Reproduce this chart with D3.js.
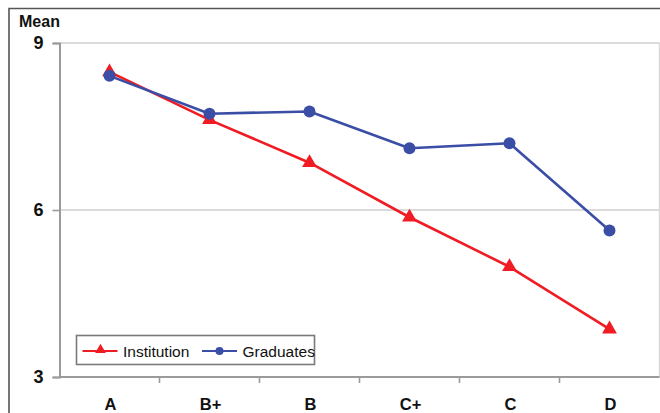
<!DOCTYPE html>
<html>
<head>
<meta charset="utf-8">
<script src="https://cdn.jsdelivr.net/npm/d3@7"></script>
<style>
  html, body { margin: 0; padding: 0; background: #fff; }
  svg { display: block; font-family: "Liberation Sans", Arial, Helvetica, sans-serif; }
</style>
</head>
<body>
<svg id="chart" width="660" height="413"></svg>
<script>
// Mean score by grade band
const grades = ["A", "B+", "B", "C+", "C", "D"];
const institution = [8.48, 7.62, 6.85, 5.87, 4.98, 3.86];
const graduates = [8.41, 7.73, 7.77, 7.11, 7.20, 5.63];
const yTicks = [3, 6, 9];
const seriesNames = ["Institution", "Graduates"];

const svg = d3.select("#chart");
const plotLeft = 59.5, plotRight = 659.5, plotTop = 43, plotBottom = 377;

const x = d3.scaleBand().domain(grades).range([plotLeft, plotRight]).padding(0);
const y = d3.scaleLinear().domain([3, 9]).range([plotBottom, plotTop]);

const red = "#f01c24";
const blue = "#3b4ea6";

// outer frame (left and top edges visible)
svg.append("path")
  .attr("d", "M9,420 L9,8.5 L670,8.5")
  .attr("fill", "none").attr("stroke", "#555").attr("stroke-width", 1.6);

// gridlines
svg.append("g").selectAll("line").data(yTicks.filter(t => t > 3)).join("line")
  .attr("x1", plotLeft).attr("x2", plotRight)
  .attr("y1", d => y(d)).attr("y2", d => y(d))
  .attr("stroke", "#cfcfcf").attr("stroke-width", 1.6);

// plot area right edge
svg.append("line")
  .attr("x1", plotRight).attr("x2", plotRight).attr("y1", plotTop).attr("y2", plotBottom)
  .attr("stroke", "#d8d8d8").attr("stroke-width", 1.4);

// y axis
const yAxis = svg.append("g").attr("transform", `translate(${plotLeft},0)`)
  .call(d3.axisLeft(y).tickValues(yTicks).tickSize(7).tickPadding(9).tickFormat(d3.format("d")));
yAxis.select(".domain").attr("stroke", "#9a9a9a").attr("stroke-width", 2);
yAxis.selectAll(".tick line").attr("stroke", "#9a9a9a").attr("stroke-width", 1.6);
yAxis.selectAll(".tick text")
  .attr("font-size", 18).attr("font-weight", "bold").attr("fill", "#111")
  .attr("font-family", "'Liberation Sans', Arial, sans-serif");

// x axis with ticks on category boundaries
const xAxisG = svg.append("g").attr("transform", `translate(0,${plotBottom})`);
xAxisG.append("line").attr("x1", plotLeft).attr("x2", plotRight)
  .attr("stroke", "#9a9a9a").attr("stroke-width", 2);
xAxisG.selectAll("line.tk").data(grades.slice(1)).join("line").attr("class", "tk")
  .attr("x1", d => x(d)).attr("x2", d => x(d)).attr("y1", 0).attr("y2", 6)
  .attr("stroke", "#9a9a9a").attr("stroke-width", 1.6);
xAxisG.selectAll("text").data(grades).join("text")
  .attr("x", d => x(d) + x.bandwidth() / 2 + 1)
  .attr("y", 33)
  .attr("text-anchor", "middle")
  .attr("font-size", 16.5).attr("font-weight", "bold").attr("fill", "#111")
  .text(d => d);

// axis title
svg.append("text").attr("x", 19).attr("y", 27)
  .attr("font-size", 16).attr("font-weight", "bold").attr("fill", "#111")
  .text("Mean");

const line = d3.line().x((d, i) => x(grades[i]) + x.bandwidth() / 2).y(d => y(d));
const tri = d3.symbol().type(d3.symbolTriangle).size(95);

function drawSeries(vals, color, marker) {
  const g = svg.append("g");
  g.append("path").datum(vals).attr("d", line)
    .attr("fill", "none").attr("stroke", color).attr("stroke-width", 2.6)
    .attr("stroke-linejoin", "round");
  if (marker === "tri") {
    g.selectAll("path.m").data(vals).join("path").attr("class", "m")
      .attr("d", tri)
      .attr("transform", (d, i) => `translate(${x(grades[i]) + x.bandwidth() / 2},${y(d)})`)
      .attr("fill", color);
  } else {
    g.selectAll("circle").data(vals).join("circle")
      .attr("cx", (d, i) => x(grades[i]) + x.bandwidth() / 2)
      .attr("cy", d => y(d)).attr("r", 6)
      .attr("fill", color);
  }
}
drawSeries(institution, red, "tri");
drawSeries(graduates, blue, "circle");

// legend
const lg = svg.append("g");
lg.append("rect").attr("x", 76.5).attr("y", 335.5).attr("width", 238).attr("height", 29)
  .attr("fill", "#fff").attr("stroke", "#7a7a7a").attr("stroke-width", 1.6);
const items = [
  { name: seriesNames[0], color: red, marker: "tri", x0: 82.5 },
  { name: seriesNames[1], color: blue, marker: "circle", x0: 202 }
];
items.forEach(it => {
  const cy = 351;
  lg.append("line").attr("x1", it.x0).attr("x2", it.x0 + 35).attr("y1", cy).attr("y2", cy)
    .attr("stroke", it.color).attr("stroke-width", 2.2);
  if (it.marker === "tri") {
    lg.append("path").attr("d", d3.symbol().type(d3.symbolTriangle).size(50))
      .attr("transform", `translate(${it.x0 + 18},${cy - 1})`).attr("fill", it.color);
  } else {
    lg.append("circle").attr("cx", it.x0 + 17.5).attr("cy", cy).attr("r", 4).attr("fill", it.color);
  }
  lg.append("text").attr("x", it.x0 + 40.5).attr("y", cy + 6)
    .attr("font-size", 15.5).attr("fill", "#111").text(it.name);
});
</script>
</body>
</html>
